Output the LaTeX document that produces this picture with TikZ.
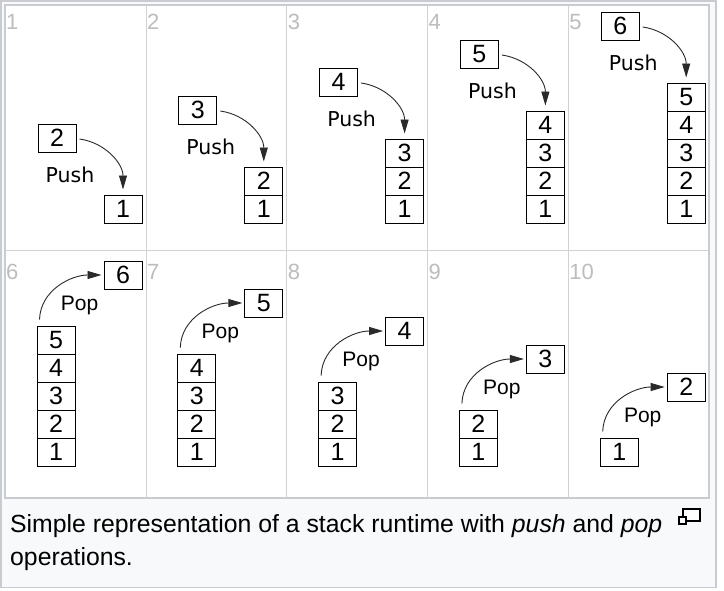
\documentclass[tikz,border=0pt]{standalone}
\usepackage{fontspec}
\setmainfont{Liberation Sans}
\newfontfamily\dejavu{DejaVu Sans}
\usetikzlibrary{positioning,arrows.meta}

\definecolor{framegray}{HTML}{C8CCD1}
\definecolor{capbg}{HTML}{F8F9FA}
\definecolor{cellnum}{HTML}{BDBDBD}
\definecolor{sepgray}{HTML}{D2D2D2}
\definecolor{arrowgray}{HTML}{2A2A2A}

\tikzset{
  cell/.style={draw, line width=1pt, minimum width=38pt, minimum height=28pt,
    inner sep=0pt, font=\fontsize{25}{25}\selectfont},
  stepno/.style={anchor=base west, inner sep=0pt, text=cellnum,
    font=\fontsize{22}{22}\selectfont},
  pushlbl/.style={anchor=base, inner sep=0pt, font=\dejavu\fontsize{20.5}{20.5}\selectfont},
  poplbl/.style={anchor=base, inner sep=0pt, font=\fontsize{21}{21}\selectfont},
  movearrow/.style={draw=arrowgray, line width=0.9pt,
    -{Triangle[length=14pt,width=8pt]}},
  captext/.style={anchor=base west, inner sep=0pt, font=\fontsize{24.8}{33}\selectfont}
}

\begin{document}
\begin{tikzpicture}[x=1pt,y=-1pt]
  \useasboundingbox (0,0) rectangle (724,590);

  % frame and panel
  \fill[capbg, draw=framegray, line width=1.5pt] (0.75,0.75) rectangle (716,587.5);
  \fill[white] (5,5) rectangle (709,498);
  \foreach \c in {1,...,4}
    \draw[sepgray] ({5+140.8*\c},5) -- ({5+140.8*\c},498);
  \draw[sepgray] (5,250.5) -- (709,250.5);
  \draw[framegray, line width=1.5pt] (5,5) rectangle (709,498);

  % push row
  \foreach \n [evaluate=\n as \xo using 5+140.8*(\n-1)] in {1,...,5} {
    \node[stepno] (no\n) at ({\xo+1},29.5) {\n};
    \foreach \k in {1,...,\n}
      \node[cell] (s\n-\k) at ({\xo+118},{209-28*(\k-1)}) {\k};
    \node[cell] (m\n) at ({\xo+52},{166-28*\n}) {\the\numexpr\n+1\relax};
    \node[pushlbl] (push\n) at ({\xo+65},{210-28*\n}) {Push};
    \draw[movearrow] ([shift={(3,1)}]m\n.east) to[out=-8,in=90]
      ([yshift=5pt]s\n-\n.north);
  }

  % pop row
  \foreach \n [evaluate=\n as \xo using 5+140.8*(\n-1),
               evaluate=\n as \m using int(6-\n),
               evaluate=\n as \t using int(\n+5)] in {1,...,5} {
    \node[stepno] (no\t) at ({\xo+1},279) {\t};
    \foreach \k in {1,...,\m}
      \node[cell] (p\n-\k) at ({\xo+51},{452-28*(\k-1)}) {\k};
    \node[cell] (q\n) at ({\xo+118},{415-28*\m}) {\the\numexpr\m+1\relax};
    \node[poplbl] (pop\n) at ({\xo+74.5},{450-28*\m}) {Pop};
    \draw[movearrow] ([shift={(3,-6)}]p\n-\m.north west) to[out=88,in=180]
      ([xshift=-2pt]q\n.west);
  }

  % caption
  \node[captext] (cap1) at (10,532)
    {Simple representation of a stack runtime with \textit{push} and \textit{pop}};
  \node[captext] (cap2) at (10,565) {operations.};
  \draw[line width=1.2pt, fill=white] (683,509) rectangle (700,521);
  \draw[line width=1.2pt, fill=white] (679,517) rectangle (686,524);
\end{tikzpicture}
\end{document}
